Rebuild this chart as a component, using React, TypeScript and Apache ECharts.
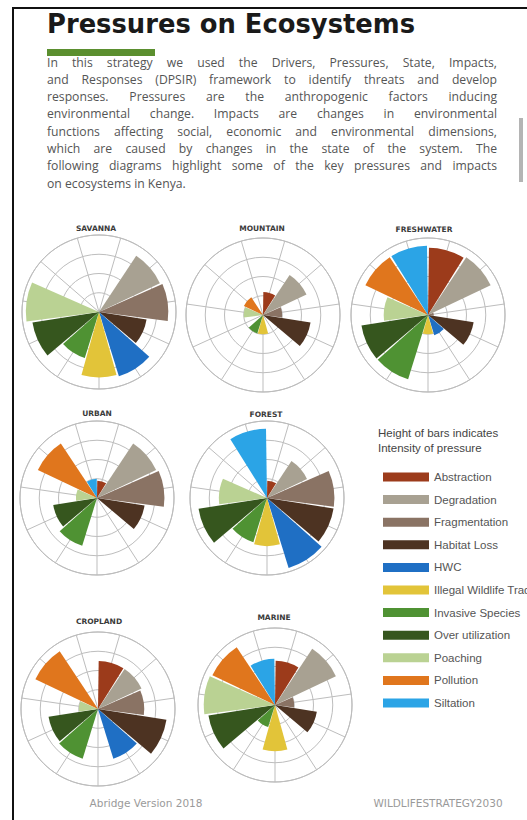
import React, { useEffect, useRef } from 'react';
import * as echarts from 'echarts';

// ---------- data ----------
const PRESSURES = [
  'Abstraction',
  'Degradation',
  'Fragmentation',
  'Habitat Loss',
  'HWC',
  'Illegal Wildlife Trade',
  'Invasive Species',
  'Over utilization',
  'Poaching',
  'Pollution',
  'Siltation',
];
const PRESSURE_COLORS = [
  '#9c3b1b',
  '#a8a192',
  '#8a7364',
  '#4d3322',
  '#1f6fc4',
  '#e2c439',
  '#4f9233',
  '#36561e',
  '#bad293',
  '#e0761d',
  '#2ba4e6',
];

const SAVANNA = [0, 3.5, 3.6, 2.5, 3.5, 3.4, 2.5, 3.5, 3.8, 0, 0];
const MOUNTAIN = [1.2, 2.5, 1.0, 2.5, 0, 1.0, 1.0, 0, 1.0, 1.1, 0];
const FRESHWATER = [3.5, 3.6, 0.3, 2.4, 1.1, 1.0, 3.5, 3.5, 2.3, 3.6, 3.6];
const URBAN = [0.9, 3.4, 3.5, 2.5, 0, 0, 2.6, 2.3, 1.1, 3.4, 1.0];
const FOREST = [0.9, 2.3, 3.5, 3.5, 3.8, 2.5, 2.4, 3.6, 2.5, 0, 3.6];
const CROPLAND = [2.5, 2.5, 2.4, 3.6, 2.7, 0, 2.7, 2.6, 1.0, 3.6, 0];
const MARINE = [2.3, 3.5, 1.0, 2.2, 0, 2.4, 1.2, 3.5, 3.7, 3.6, 2.4];

const ECOSYSTEM_NAMES = ['SAVANNA', 'MOUNTAIN', 'FRESHWATER', 'URBAN', 'FOREST', 'CROPLAND', 'MARINE'];
const ECOSYSTEM_VALUES = [SAVANNA, MOUNTAIN, FRESHWATER, URBAN, FOREST, CROPLAND, MARINE];
const RING_MAX = 4;

const TITLE = 'Pressures on Ecosystems';
const PARAGRAPH_LINES = [
  'In this strategy we used the Drivers, Pressures, State, Impacts,',
  'and Responses (DPSIR) framework to identify threats and develop',
  'responses. Pressures are the anthropogenic factors inducing',
  'environmental change. Impacts are changes in environmental',
  'functions affecting social, economic and environmental dimensions,',
  'which are caused by changes in the state of the system. The',
  'following diagrams highlight some of the key pressures and impacts',
  'on ecosystems in Kenya.',
];
const LEGEND_NOTE = ['Height of bars indicates', 'Intensity of pressure'];
const FOOTER_LEFT = 'Abridge Version 2018';
const FOOTER_RIGHT = 'WILDLIFESTRATEGY2030';

// ---------- layout ----------
const LAYOUT = [
  { cx: 99, cy: 312, tx: 96, ty: 228 },
  { cx: 263, cy: 315, tx: 262, ty: 228 },
  { cx: 428, cy: 315, tx: 424, ty: 229 },
  { cx: 97, cy: 498, tx: 97, ty: 413 },
  { cx: 267, cy: 498, tx: 266, ty: 414 },
  { cx: 98, cy: 709, tx: 99, ty: 621 },
  { cx: 275, cy: 705, tx: 274, ty: 617 },
];
const RADIUS = 77;
const GRID_COLOR = '#bdbdbd';

const PARA_FAMILY = "'Open Sans', sans-serif";
const PARA_X = 47;
const PARA_W = 450;
const PARA_Y0 = 62;
const PARA_STEP = 17.3;

let measureCtx: CanvasRenderingContext2D | null = null;
function measure(text: string, font: string): number {
  if (!measureCtx) measureCtx = document.createElement('canvas').getContext('2d');
  if (!measureCtx) return text.length * 6;
  measureCtx.font = font;
  return measureCtx.measureText(text).width;
}

function txt(x: number, y: number, text: string, s: any) {
  return {
    type: 'text',
    x,
    y,
    silent: true,
    style: {
      text,
      fill: s.fill || '#444',
      fontSize: s.fontSize || 12,
      fontFamily: s.fontFamily || PARA_FAMILY,
      fontWeight: s.fontWeight || 'normal',
      align: s.align || 'left',
      textAlign: s.align || 'left',
      verticalAlign: 'middle',
      textVerticalAlign: 'middle',
    },
  };
}

function buildParagraph(): any[] {
  const els: any[] = [];
  const bodyLines = PARAGRAPH_LINES.slice(0, -1);
  const w12 = Math.max(...bodyLines.map((l) => measure(l, `12px ${PARA_FAMILY}`)));
  const size = Math.min(12.2, (12 * (PARA_W - 4)) / w12);
  const font = `${size}px ${PARA_FAMILY}`;
  const spaceW = measure(' ', font);
  PARAGRAPH_LINES.forEach((line, i) => {
    const words = line.split(' ');
    const widths = words.map((w) => measure(w, font));
    const total = widths.reduce((a, b) => a + b, 0);
    const isLast = i === PARAGRAPH_LINES.length - 1;
    const gap = isLast || words.length < 2 ? spaceW : (PARA_W - total) / (words.length - 1);
    let x = PARA_X;
    const y = PARA_Y0 + i * PARA_STEP;
    words.forEach((w, k) => {
      els.push(txt(x, y, w, { fontSize: size, fill: '#555555' }));
      x += widths[k] + gap;
    });
  });
  return els;
}

function buildOption(): any {
  const polar: any[] = [];
  const angleAxis: any[] = [];
  const radiusAxis: any[] = [];
  const series: any[] = [];

  LAYOUT.forEach((L, i) => {
    const gridIdx = 2 * i;
    const dataIdx = 2 * i + 1;
    polar.push({ center: [L.cx, L.cy], radius: RADIUS });
    polar.push({ center: [L.cx, L.cy], radius: RADIUS });

    angleAxis.push({
      polarIndex: gridIdx,
      type: 'category',
      data: PRESSURES,
      startAngle: 90 - 360 / (2 * PRESSURES.length),
      axisLine: { show: true, lineStyle: { color: GRID_COLOR, width: 1 } },
      axisTick: { show: false },
      axisLabel: { show: false },
      splitLine: { show: true, lineStyle: { color: GRID_COLOR, width: 1 } },
      z: 0,
    });
    angleAxis.push({
      polarIndex: dataIdx,
      type: 'category',
      data: PRESSURES,
      startAngle: 90,
      axisLine: { show: false },
      axisTick: { show: false },
      axisLabel: { show: false },
      splitLine: { show: false },
    });
    radiusAxis.push({
      polarIndex: gridIdx,
      type: 'value',
      min: 0,
      max: RING_MAX,
      interval: 1,
      axisLine: { show: false },
      axisTick: { show: false },
      axisLabel: { show: false },
      splitLine: { show: true, lineStyle: { color: GRID_COLOR, width: 1 } },
      z: 0,
    });
    radiusAxis.push({
      polarIndex: dataIdx,
      type: 'value',
      min: 0,
      max: RING_MAX,
      axisLine: { show: false },
      axisTick: { show: false },
      axisLabel: { show: false },
      splitLine: { show: false },
    });

    const vals = ECOSYSTEM_VALUES[i];
    PRESSURES.forEach((name, j) => {
      series.push({
        type: 'bar',
        name,
        coordinateSystem: 'polar',
        polarIndex: dataIdx,
        stack: 'eco' + i,
        barCategoryGap: '5%',
        itemStyle: { color: PRESSURE_COLORS[j] },
        emphasis: { disabled: true },
        data: vals.map((v, k) => (k === j && v > 0 ? v : '-')),
      });
    });
  });

  const graphic: any[] = [
    { type: 'rect', silent: true, shape: { x: 12, y: 7, width: 515, height: 2 }, style: { fill: '#111' } },
    { type: 'rect', silent: true, shape: { x: 12, y: 7, width: 2, height: 813 }, style: { fill: '#111' } },
    txt(47, 24, TITLE, { fontSize: 25.8, fontWeight: 'bold', fontFamily: "'DejaVu Sans', sans-serif", fill: '#1a1a1a' }),
    { type: 'rect', silent: true, shape: { x: 47, y: 49, width: 108, height: 7 }, style: { fill: '#5b8f2f' } },
    { type: 'rect', silent: true, shape: { x: 519, y: 118, width: 4, height: 64 }, style: { fill: '#b4b4b4' } },
    ...buildParagraph(),
    ...ECOSYSTEM_NAMES.map((n, i) =>
      txt(LAYOUT[i].tx, LAYOUT[i].ty, n, {
        fontSize: 7.5,
        fontWeight: 'bold',
        fontFamily: "'DejaVu Sans', sans-serif",
        fill: '#3a3a3a',
        align: 'center',
      })
    ),
    txt(378, 433, LEGEND_NOTE[0], { fontSize: 11.5, fontFamily: "'Liberation Sans', Arial, sans-serif", fill: '#444' }),
    txt(378, 448, LEGEND_NOTE[1], { fontSize: 11.5, fontFamily: "'Liberation Sans', Arial, sans-serif", fill: '#444' }),
    txt(146, 803, FOOTER_LEFT, { fontSize: 10.5, fontFamily: "'DejaVu Sans', sans-serif", fill: '#9a9a9a', align: 'center' }),
    txt(438, 803, FOOTER_RIGHT, { fontSize: 10.5, fontFamily: "'DejaVu Sans', sans-serif", fill: '#9a9a9a', align: 'center' }),
  ];

  return {
    animation: false,
    backgroundColor: '#ffffff',
    polar,
    angleAxis,
    radiusAxis,
    series,
    legend: {
      data: PRESSURES,
      orient: 'vertical',
      left: 378,
      top: 465,
      itemWidth: 46,
      itemHeight: 9,
      itemGap: 8.6,
      icon: 'rect',
      textStyle: {
        fontSize: 11.5,
        color: '#555',
        fontFamily: "'Liberation Sans', Arial, sans-serif",
        lineHeight: 14,
      },
    },
    graphic,
  };
}

export default function App() {
  const ref = useRef<HTMLDivElement>(null);
  useEffect(() => {
    if (!ref.current) return;
    const chart = echarts.init(ref.current, undefined, { renderer: 'svg' });
    chart.setOption(buildOption());
    return () => chart.dispose();
  }, []);
  return (
    <div
      ref={ref}
      style={{ position: 'absolute', left: 0, top: 0, width: 527, height: 820, background: '#fff' }}
    />
  );
}
